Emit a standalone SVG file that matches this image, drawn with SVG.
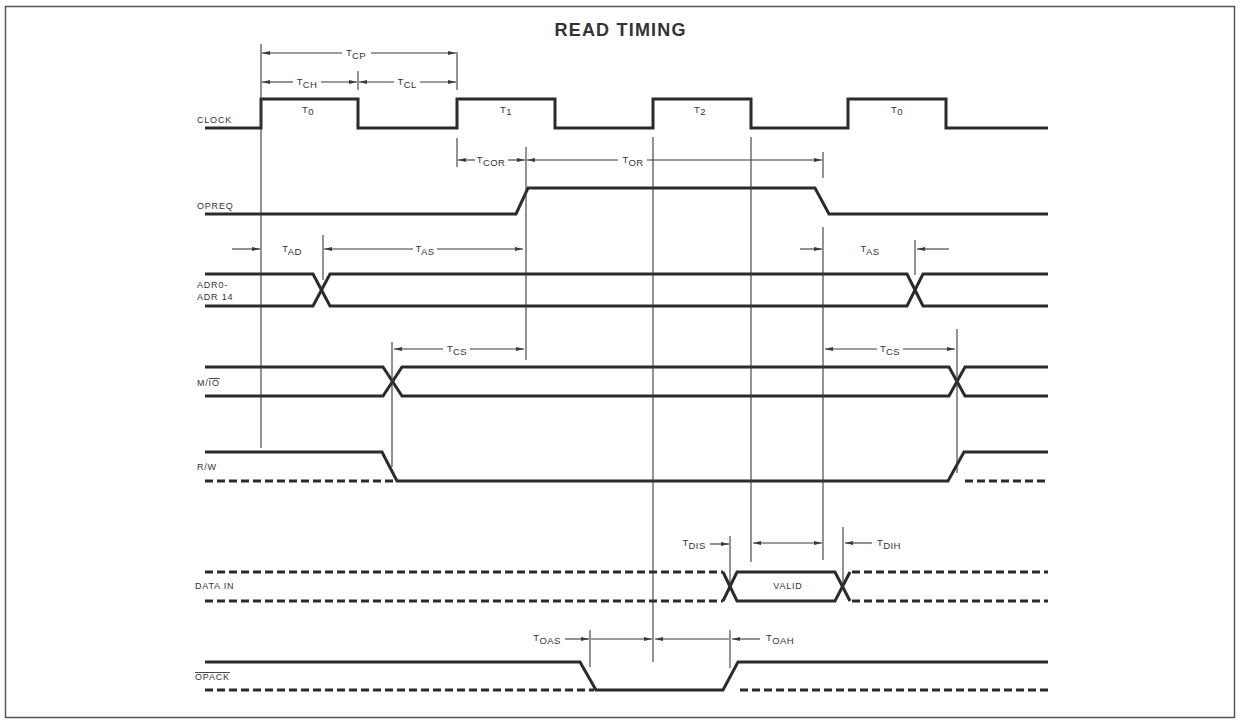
<svg xmlns="http://www.w3.org/2000/svg" width="1240" height="722" viewBox="0 0 1240 722">
<style>
.sig{fill:none;stroke:#2b2b2b;stroke-width:3;stroke-linejoin:miter}
.dash{fill:none;stroke:#2b2b2b;stroke-width:3;stroke-dasharray:8 4}
.guide{stroke:#3a3a3a;stroke-width:1.1}
.arr{stroke:#3a3a3a;stroke-width:1.1;marker-end:url(#ah)}
.lbl{font-family:"Liberation Sans",Arial,sans-serif;font-size:9px;letter-spacing:0.8px;fill:#333}
.tl{font-family:"Liberation Sans",Arial,sans-serif;font-size:9.5px;letter-spacing:0.4px;fill:#333;text-anchor:middle}
.title{font-family:"Liberation Sans",Arial,sans-serif;font-size:18px;font-weight:bold;fill:#333;text-anchor:middle}
</style>
<defs>
<marker id="ah" viewBox="0 0 8 4" refX="8" refY="2" markerWidth="8" markerHeight="4" markerUnits="userSpaceOnUse" orient="auto">
<path d="M0,0 L8,2 L0,4 z" fill="#3a3a3a"/>
</marker>
</defs>
<rect x="5.5" y="6.5" width="1229" height="711" fill="#fff" stroke="#555" stroke-width="1.5"/>
<text class="title" x="620" y="36" textLength="131">READ TIMING</text>

<g id="clock">
<path class="sig" d="M205,128 H261 V99 H358 V128 H457 V99 H555 V128 H653 V99 H751 V128 H848 V99 H946 V128 H1048"/>
<text class="lbl" x="197" y="123">CLOCK</text>
<text class="tl" x="308" y="113">T<tspan dy="2">0</tspan></text>
<text class="tl" x="506" y="113">T<tspan dy="2">1</tspan></text>
<text class="tl" x="700" y="113">T<tspan dy="2">2</tspan></text>
<text class="tl" x="897" y="113">T<tspan dy="2">0</tspan></text>
</g>

<g id="opreq">
<path class="sig" d="M205,214 H516 L528,188 H815 L829,214 H1048"/>
<text class="lbl" x="197" y="209">OPREQ</text>
</g>

<g id="adr">
<path class="sig" d="M205,274 H313 L330,306 H907 L923,274 H1048"/>
<path class="sig" d="M205,306 H313 L330,274 H907 L923,306 H1048"/>
<text class="lbl" x="197" y="288">ADR0-</text>
<text class="lbl" x="197" y="300">ADR 14</text>
</g>

<g id="mio">
<path class="sig" d="M205,367 H383 L402,396 H949 L965,367 H1048"/>
<path class="sig" d="M205,396 H383 L402,367 H949 L965,396 H1048"/>
<text class="lbl" x="197" y="386">M/<tspan style="text-decoration:overline">IO</tspan></text>
</g>

<g id="rw">
<path class="sig" d="M205,452 H382 L397,481 H948 L964,452 H1048"/>
<path class="dash" d="M205,481 H395"/>
<path class="dash" d="M965,481 H1048"/>
<text class="lbl" x="197" y="470">R/W</text>
</g>

<g id="datain">
<path class="dash" d="M205,572 H723"/>
<path class="dash" d="M205,601 H723"/>
<path class="sig" d="M723,572 L737,601 H835 L850,572"/>
<path class="sig" d="M723,601 L737,572 H835 L850,601"/>
<path class="dash" d="M852,572 H1048"/>
<path class="dash" d="M852,601 H1048"/>
<text class="lbl" x="195" y="589">DATA IN</text>
<text class="lbl" x="788" y="589" text-anchor="middle">VALID</text>
</g>

<g id="opack">
<path class="sig" d="M205,662 H580 L596,690 H723 L738,662 H1048"/>
<path class="dash" d="M205,690 H594"/>
<path class="dash" d="M740,690 H1048"/>
<text class="lbl" x="195" y="680"><tspan style="text-decoration:overline">OPACK</tspan></text>
</g>

<g id="connectors">
<line class="guide" x1="261" y1="44" x2="261" y2="448"/>
<line class="guide" x1="358" y1="71" x2="358" y2="90"/>
<line class="guide" x1="457" y1="52" x2="457" y2="90"/>
<line class="guide" x1="457" y1="138" x2="457" y2="167"/>
<line class="guide" x1="526" y1="147" x2="526" y2="360"/>
<line class="guide" x1="653" y1="137" x2="653" y2="662"/>
<line class="guide" x1="751" y1="137" x2="751" y2="562"/>
<line class="guide" x1="823" y1="152" x2="823" y2="178"/>
<line class="guide" x1="823" y1="227" x2="823" y2="560"/>
<line class="guide" x1="323" y1="235" x2="323" y2="280"/>
<line class="guide" x1="915" y1="240" x2="915" y2="275"/>
<line class="guide" x1="392" y1="342" x2="392" y2="467"/>
<line class="guide" x1="957" y1="329" x2="957" y2="473"/>
<line class="guide" x1="730" y1="536" x2="730" y2="586"/>
<line class="guide" x1="843" y1="527" x2="843" y2="586"/>
<line class="guide" x1="590" y1="630" x2="590" y2="667"/>
<line class="guide" x1="730" y1="630" x2="730" y2="668"/>

<!-- TCP -->
<line class="arr" x1="342" y1="53" x2="262" y2="53"/>
<line class="arr" x1="371" y1="53" x2="456" y2="53"/>
<text class="tl" x="356" y="56">T<tspan dy="3">CP</tspan></text>
<!-- TCH / TCL -->
<line class="arr" x1="293" y1="82" x2="262" y2="82"/>
<line class="arr" x1="321" y1="82" x2="357" y2="82"/>
<text class="tl" x="307" y="85">T<tspan dy="3">CH</tspan></text>
<line class="arr" x1="394" y1="82" x2="359" y2="82"/>
<line class="arr" x1="420" y1="82" x2="456" y2="82"/>
<text class="tl" x="407" y="85">T<tspan dy="3">CL</tspan></text>
<!-- TCOR / TOR -->
<line class="arr" x1="475" y1="160" x2="458" y2="160"/>
<line class="arr" x1="508" y1="160" x2="525" y2="160"/>
<text class="tl" x="491" y="163">T<tspan dy="3">COR</tspan></text>
<line class="arr" x1="618" y1="160" x2="527" y2="160"/>
<line class="arr" x1="647" y1="160" x2="822" y2="160"/>
<text class="tl" x="633" y="163">T<tspan dy="3">OR</tspan></text>
<!-- TAD / TAS -->
<line class="arr" x1="232" y1="249" x2="260" y2="249"/>
<text class="tl" x="292" y="252">T<tspan dy="3">AD</tspan></text>
<line class="arr" x1="413" y1="249" x2="324" y2="249"/>
<line class="arr" x1="437" y1="249" x2="523" y2="249"/>
<text class="tl" x="425" y="252">T<tspan dy="3">AS</tspan></text>
<line class="arr" x1="800" y1="249" x2="822" y2="249"/>
<text class="tl" x="870" y="252">T<tspan dy="3">AS</tspan></text>
<line class="arr" x1="949" y1="249" x2="917" y2="249"/>
<!-- TCS -->
<line class="arr" x1="443" y1="349" x2="394" y2="349"/>
<line class="arr" x1="470" y1="349" x2="524" y2="349"/>
<text class="tl" x="457" y="352">T<tspan dy="3">CS</tspan></text>
<line class="arr" x1="877" y1="349" x2="825" y2="349"/>
<line class="arr" x1="903" y1="349" x2="955" y2="349"/>
<text class="tl" x="890" y="352">T<tspan dy="3">CS</tspan></text>
<!-- TDIS / TDIH -->
<text class="tl" x="694" y="546">T<tspan dy="3">DIS</tspan></text>
<line class="arr" x1="710" y1="544" x2="729" y2="544"/>
<line class="arr" x1="787" y1="543" x2="753" y2="543"/>
<line class="arr" x1="787" y1="543" x2="822" y2="543"/>
<line class="arr" x1="872" y1="543" x2="845" y2="543"/>
<text class="tl" x="889" y="546">T<tspan dy="3">DIH</tspan></text>
<!-- TOAS / TOAH -->
<text class="tl" x="547" y="641">T<tspan dy="3">OAS</tspan></text>
<line class="arr" x1="565" y1="639" x2="589" y2="639"/>
<line class="arr" x1="591" y1="639" x2="652" y2="639"/>
<line class="arr" x1="729" y1="639" x2="655" y2="639"/>
<line class="arr" x1="760" y1="639" x2="732" y2="639"/>
<text class="tl" x="780" y="641">T<tspan dy="3">OAH</tspan></text>
</g>
</svg>
